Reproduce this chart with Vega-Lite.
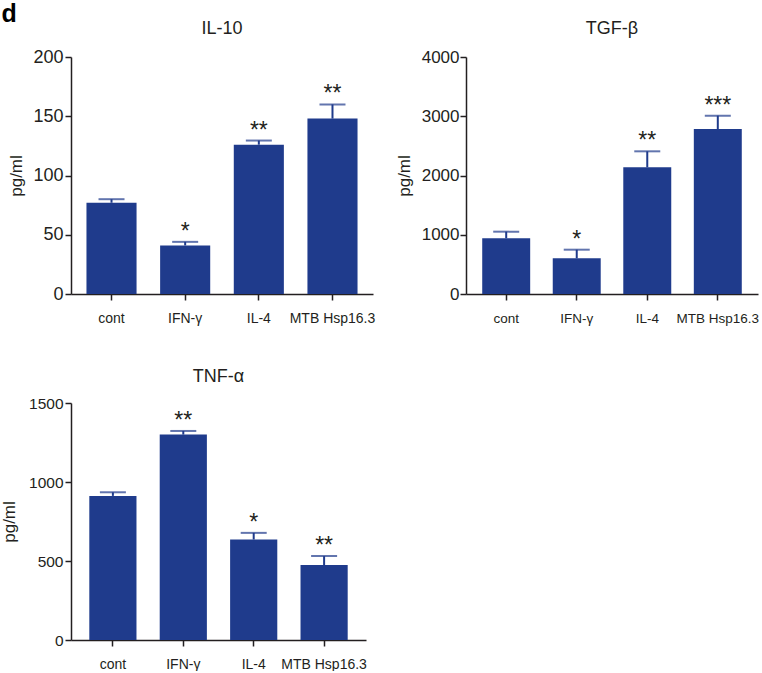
{
  "$schema": "https://vega.github.io/schema/vega-lite/v6.json",
  "padding": {"left": 0, "top": 2, "right": 0, "bottom": 0},
  "background": "white",
  "title": {"text": "d", "anchor": "start", "fontSize": 25, "fontWeight": "bold", "font": "Liberation Sans", "color": "#000000", "offset": -7, "dx": 1},
  "config": {
    "font": "Liberation Sans",
    "view": {"stroke": null},
    "axis": {"grid": false, "domainColor": "#231f20", "tickColor": "#231f20", "domainWidth": 1.5, "tickWidth": 1.5, "labelColor": "#231f20", "titleColor": "#231f20", "labelFont": "Liberation Sans", "titleFont": "Liberation Sans"},
    "title": {"font": "Liberation Sans", "fontSize": 18, "fontWeight": "normal", "color": "#231f20"}
  },
  "datasets": {
    "d": [
      {"panel": "IL-10", "group": "cont", "value": 77, "err": 80, "star": ""},
      {"panel": "IL-10", "group": "IFN-γ", "value": 41, "err": 44, "star": "*"},
      {"panel": "IL-10", "group": "IL-4", "value": 126, "err": 129.5, "star": "**"},
      {"panel": "IL-10", "group": "MTB Hsp16.3", "value": 148, "err": 160, "star": "**"},
      {"panel": "TGF-β", "group": "cont", "value": 940, "err": 1052, "star": ""},
      {"panel": "TGF-β", "group": "IFN-γ", "value": 602, "err": 748, "star": "*"},
      {"panel": "TGF-β", "group": "IL-4", "value": 2138, "err": 2408, "star": "**"},
      {"panel": "TGF-β", "group": "MTB Hsp16.3", "value": 2785, "err": 3010, "star": "***"},
      {"panel": "TNF-α", "group": "cont", "value": 912, "err": 935, "star": ""},
      {"panel": "TNF-α", "group": "IFN-γ", "value": 1300, "err": 1323, "star": "**"},
      {"panel": "TNF-α", "group": "IL-4", "value": 636, "err": 678, "star": "*"},
      {"panel": "TNF-α", "group": "MTB Hsp16.3", "value": 474, "err": 531, "star": "**"}
    ]
  },
  "spacing": 43,
  "vconcat": [
    {
      "spacing": 20,
      "hconcat": [
        {
          "title": {"text": "IL-10", "offset": 10},
          "width": 302, "height": 237,
          "data": {"name": "d"},
          "transform": [{"filter": "datum.panel === 'IL-10'"}],
          "encoding": {
            "x": {"field": "group", "type": "nominal", "sort": null, "scale": {"paddingInner": 0.32, "paddingOuter": 0.21},
              "axis": {"title": null, "labelAngle": 0, "labelFontSize": 14, "labelPadding": 11, "tickSize": 6}}
          },
          "layer": [
            {"mark": {"type": "bar", "color": "#1f3b8c"},
             "encoding": {"y": {"field": "value", "type": "quantitative", "scale": {"domain": [0, 200], "nice": false},
               "axis": {"values": [0, 50, 100, 150, 200], "format": "d", "title": "pg/ml", "titleFontSize": 17, "titleFontWeight": "normal", "labelFontSize": 18, "tickSize": 6, "labelPadding": 2, "titlePadding": 7}}}},
            {"mark": {"type": "rule", "color": "#1f3b8c", "strokeWidth": 2},
             "encoding": {"y": {"field": "value", "type": "quantitative"}, "y2": {"field": "err"}}},
            {"mark": {"type": "tick", "color": "#1f3b8c", "thickness": 2, "size": 26, "orient": "horizontal"},
             "encoding": {"y": {"field": "err", "type": "quantitative"}}},
            {"mark": {"type": "text", "fontSize": 23, "dy": -3, "baseline": "alphabetic", "color": "#231f20", "font": "Liberation Sans"},
             "encoding": {"y": {"field": "err", "type": "quantitative"}, "text": {"field": "star"}}}
          ]
        },
        {
          "title": {"text": "TGF-β", "offset": 10},
          "width": 292, "height": 237,
          "data": {"name": "d"},
          "transform": [{"filter": "datum.panel === 'TGF-β'"}],
          "encoding": {
            "x": {"field": "group", "type": "nominal", "sort": null, "scale": {"paddingInner": 0.32, "paddingOuter": 0.23},
              "axis": {"title": null, "labelAngle": 0, "labelFontSize": 13.5, "labelPadding": 11, "tickSize": 6}}
          },
          "layer": [
            {"mark": {"type": "bar", "color": "#1f3b8c"},
             "encoding": {"y": {"field": "value", "type": "quantitative", "scale": {"domain": [0, 4000], "nice": false},
               "axis": {"values": [0, 1000, 2000, 3000, 4000], "format": "d", "title": "pg/ml", "titleFontSize": 17, "titleFontWeight": "normal", "labelFontSize": 17, "tickSize": 6, "labelPadding": 1, "titlePadding": 8}}}},
            {"mark": {"type": "rule", "color": "#1f3b8c", "strokeWidth": 2},
             "encoding": {"y": {"field": "value", "type": "quantitative"}, "y2": {"field": "err"}}},
            {"mark": {"type": "tick", "color": "#1f3b8c", "thickness": 2, "size": 26, "orient": "horizontal"},
             "encoding": {"y": {"field": "err", "type": "quantitative"}}},
            {"mark": {"type": "text", "fontSize": 23, "dy": -3, "baseline": "alphabetic", "color": "#231f20", "font": "Liberation Sans"},
             "encoding": {"y": {"field": "err", "type": "quantitative"}, "text": {"field": "star"}}}
          ]
        }
      ]
    },
    {
      "title": {"text": "TNF-α", "offset": 10},
      "width": 295, "height": 237,
      "data": {"name": "d"},
      "transform": [{"filter": "datum.panel === 'TNF-α'"}],
      "encoding": {
        "x": {"field": "group", "type": "nominal", "sort": null, "scale": {"paddingInner": 0.33, "paddingOuter": 0.26},
          "axis": {"title": null, "labelAngle": 0, "labelFontSize": 14, "labelPadding": 11, "tickSize": 6}}
      },
      "layer": [
        {"mark": {"type": "bar", "color": "#1f3b8c"},
         "encoding": {"y": {"field": "value", "type": "quantitative", "scale": {"domain": [0, 1500], "nice": false},
           "axis": {"values": [0, 500, 1000, 1500], "format": "d", "title": "pg/ml", "titleFontSize": 17, "titleFontWeight": "normal", "labelFontSize": 15.5, "tickSize": 6, "labelPadding": 2, "titlePadding": 10}}}},
        {"mark": {"type": "rule", "color": "#1f3b8c", "strokeWidth": 2},
         "encoding": {"y": {"field": "value", "type": "quantitative"}, "y2": {"field": "err"}}},
        {"mark": {"type": "tick", "color": "#1f3b8c", "thickness": 2, "size": 26, "orient": "horizontal"},
         "encoding": {"y": {"field": "err", "type": "quantitative"}}},
        {"mark": {"type": "text", "fontSize": 23, "dy": -3, "baseline": "alphabetic", "color": "#231f20", "font": "Liberation Sans"},
         "encoding": {"y": {"field": "err", "type": "quantitative"}, "text": {"field": "star"}}}
      ]
    }
  ]
}
